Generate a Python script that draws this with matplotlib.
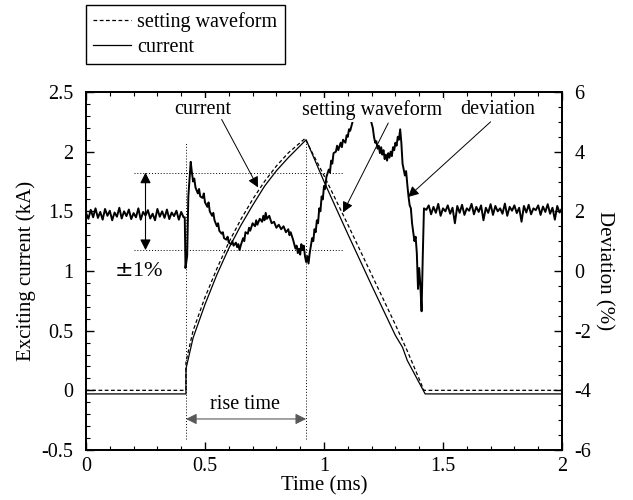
"""Exciting current vs setting waveform, with the deviation trace on a twin axis."""

import matplotlib as mpl

mpl.use("Agg")
import matplotlib.pyplot as plt
from matplotlib.ticker import MultipleLocator

plt.rcParams["font.family"] = ["Liberation Serif", "DejaVu Serif"]
plt.rcParams["font.size"] = 14.5

# setting waveform (kA) vs time (ms)
t_set = [0.0, 0.42, 0.42, 0.45, 0.50, 0.55, 0.60, 0.65, 0.70, 0.75, 0.80,
         0.85, 0.92, 1.00, 1.10, 1.20, 1.30, 1.35, 1.42, 2.0]
i_set = [0.0, 0.0, 0.24, 0.50, 0.78, 1.02, 1.24, 1.43, 1.60, 1.75, 1.88,
         1.99, 2.11, 1.80, 1.39, 0.97, 0.55, 0.33, 0.0, 0.0]

# measured current (kA)
t_cur = [0.0, 0.42, 0.42, 0.45, 0.50, 0.55, 0.60, 0.65, 0.70, 0.75, 0.80,
         0.85, 0.925, 1.00, 1.10, 1.20, 1.30, 1.33, 1.35, 1.425, 2.0]
i_cur = [-0.03, -0.03, 0.18, 0.44, 0.72, 0.97, 1.19, 1.38, 1.55, 1.71, 1.84,
         1.95, 2.10, 1.75, 1.31, 0.88, 0.46, 0.36, 0.25, -0.03, -0.03]

# deviation (%)
t_dev_pre = [i / 100 for i in range(42)]
dev_pre = [1.95, 1.75, 2.05, 1.80, 2.10, 1.78, 1.98, 1.72, 2.08, 1.85, 2.02,
           1.70, 1.96, 1.82, 2.12, 1.76, 2.00, 1.84, 2.06, 1.74, 1.94, 1.80,
           2.10, 1.72, 1.98, 1.86, 2.04, 1.76, 1.92, 1.70, 2.08, 1.82, 2.00,
           1.78, 2.06, 1.74, 1.96, 1.84, 2.02, 1.72, 1.98, 1.80]
t_dev_mid = [0.415, 0.418, 0.425, 0.43, 0.44, 0.445, 0.45, 0.455, 0.46, 0.47,
             0.475, 0.48, 0.49, 0.495, 0.50, 0.51, 0.515, 0.52, 0.53, 0.535,
             0.54, 0.55, 0.555, 0.56, 0.57, 0.575, 0.58, 0.59, 0.595, 0.60,
             0.61, 0.615, 0.62, 0.63, 0.635, 0.64, 0.645, 0.65, 0.66, 0.665,
             0.67, 0.68, 0.685, 0.69, 0.70, 0.71, 0.715, 0.72, 0.73, 0.74,
             0.745, 0.75, 0.755, 0.76, 0.77, 0.78, 0.79, 0.80, 0.81, 0.82,
             0.83, 0.84, 0.85, 0.855, 0.86, 0.87, 0.875, 0.88, 0.885, 0.89,
             0.895, 0.90, 0.905, 0.91, 0.915, 0.92, 0.925, 0.93, 0.935, 0.94,
             0.945, 0.95, 0.955, 0.96, 0.965, 0.97, 0.975, 0.98, 0.985, 0.99,
             0.995, 1.00, 1.005, 1.01, 1.02, 1.025, 1.03, 1.035, 1.04, 1.05,
             1.055, 1.06, 1.07, 1.075, 1.08, 1.09, 1.095, 1.10, 1.105, 1.11,
             1.12, 1.13, 1.15, 1.17, 1.19, 1.20, 1.205, 1.21, 1.215, 1.22,
             1.225, 1.23, 1.235, 1.24, 1.245, 1.25, 1.255, 1.26, 1.265, 1.27,
             1.275, 1.28, 1.285, 1.29, 1.295, 1.30, 1.305, 1.31, 1.315, 1.32,
             1.325, 1.33, 1.335, 1.34, 1.345, 1.35, 1.355, 1.36, 1.365, 1.37,
             1.375, 1.38, 1.385, 1.39, 1.395, 1.40, 1.405, 1.41, 1.415, 1.42]
dev_mid = [1.80, 0.10, 0.50, 2.50, 3.66, 3.30, 3.00, 3.10, 2.80, 2.60,
           2.75, 2.50, 2.45, 2.60, 2.30, 2.15, 2.30, 2.00, 1.85, 1.95,
           1.70, 1.50, 1.60, 1.35, 1.25, 1.30, 1.10, 1.05, 1.15, 0.95,
           0.90, 1.00, 0.85, 0.95, 0.80, 0.90, 0.70, 0.85, 1.10, 1.00,
           1.30, 1.25, 1.45, 1.35, 1.60, 1.50, 1.70, 1.55, 1.75, 1.65,
           1.85, 1.70, 1.95, 1.75, 1.85, 1.60, 1.65, 1.45, 1.55, 1.40,
           1.50, 1.30, 1.40, 1.20, 1.30, 1.05, 0.90, 0.75, 0.85, 0.60,
           0.75, 0.55, 0.90, 0.70, 0.85, 0.50, 0.30, 0.50, 0.25, 0.60,
           0.85, 1.10, 1.00, 1.40, 1.30, 1.70, 1.60, 2.10, 2.00, 2.50,
           2.40, 2.85, 2.75, 3.15, 3.40, 3.30, 3.70, 3.60, 3.95, 4.00,
           4.20, 4.05, 4.30, 4.15, 4.40, 4.30, 4.55, 4.50, 4.75, 4.70,
           5.00, 5.30, 5.50, 5.45, 5.25, 4.95, 4.80, 4.50, 4.30, 4.35,
           4.10, 4.20, 3.95, 4.15, 3.90, 4.05, 3.75, 3.90, 3.70, 3.95,
           3.80, 4.00, 3.85, 4.15, 4.05, 4.30, 4.20, 4.50, 4.40, 4.75,
           4.30, 3.60, 3.40, 3.20, 3.35, 2.90, 2.50, 2.20, 2.10, 1.60,
           1.30, 1.00, 1.15, 0.60, -0.60, 0.10, -0.50, -1.35, 0.50, 2.10]
t_dev_post = [1.43 + i / 100 for i in range(58)]
dev_post = [2.05, 2.20, 1.90, 2.15, 1.95, 2.25, 1.85, 2.10, 2.00, 2.20, 1.92,
            2.12, 1.60, 2.18, 1.95, 2.22, 1.88, 2.10, 2.02, 2.25, 1.90, 2.15,
            1.98, 2.20, 1.70, 2.12, 1.95, 2.24, 1.88, 2.18, 2.00, 2.10, 1.92,
            2.26, 1.85, 2.15, 2.02, 2.20, 1.94, 2.12, 1.65, 2.18, 1.96, 2.22,
            1.90, 2.10, 2.04, 2.20, 1.88, 2.16, 1.98, 2.24, 1.92, 2.12, 1.72,
            2.18, 1.96, 2.10]

t_dev = t_dev_pre + t_dev_mid + t_dev_post
dev = dev_pre + dev_mid + dev_post

fig = plt.figure(figsize=(6.33, 5.0), dpi=100)
ax = fig.add_axes([86 / 633, 50 / 500, 476 / 633, 358 / 500])
ax2 = ax.twinx()

set_line, = ax.plot(t_set, i_set, color="black", lw=0.9, ls=(0, (3, 2)),
                    label="setting waveform")
cur_line, = ax.plot(t_cur, i_cur, color="black", lw=0.9, label="current")
ax2.plot(t_dev, dev, color="black", lw=1.4)

ax.set_xlim(0, 2)
ax.set_ylim(-0.5, 2.5)
ax2.set_ylim(-6, 6)
ax.xaxis.set_major_locator(MultipleLocator(0.5))
ax.xaxis.set_minor_locator(MultipleLocator(0.1))
ax.yaxis.set_major_locator(MultipleLocator(0.5))
ax.yaxis.set_minor_locator(MultipleLocator(0.1))
ax2.yaxis.set_major_locator(MultipleLocator(2))
ax2.yaxis.set_minor_locator(MultipleLocator(0.5))
ax.xaxis.set_major_formatter(plt.FuncFormatter(lambda v, p: f"{v:g}"))
ax.yaxis.set_major_formatter(plt.FuncFormatter(lambda v, p: f"{v:g}"))
ax2.yaxis.set_major_formatter(plt.FuncFormatter(lambda v, p: f"{v:g}"))

ax.tick_params(which="both", direction="in", top=True, right=False, labelsize=14.5)
ax.tick_params(axis="y", pad=9)
ax.tick_params(axis="x", pad=5)
ax.tick_params(which="major", length=6, width=1)
ax.tick_params(which="minor", length=3, width=0.8)
ax2.tick_params(which="both", direction="in", labelsize=14.5, pad=9)
ax2.tick_params(which="major", length=6, width=1)
ax2.tick_params(which="minor", length=3, width=0.8)
for a in (ax, ax2):
    for s in a.spines.values():
        s.set_linewidth(1.3)

ax.set_xlabel("Time (ms)", fontsize=15, labelpad=0)
ax.set_ylabel("Exciting current (kA)", fontsize=15, labelpad=4)
ax2.set_ylabel("Deviation (%)", fontsize=15, rotation=270, labelpad=16)

# guide lines
ax.plot([0.42, 0.42], [-0.41, 2.08], color="black", lw=0.7, ls=(0, (1, 2)))
ax.plot([0.925, 0.925], [-0.41, 2.1], color="black", lw=0.7, ls=(0, (1, 2)))
ax2.plot([0.2, 1.08], [3.3, 3.3], color="black", lw=0.7, ls=(0, (1, 2)))
ax2.plot([0.2, 1.08], [0.7, 0.7], color="black", lw=0.7, ls=(0, (1, 2)))

arrow = dict(arrowstyle="<|-|>", color="black", lw=0.8, mutation_scale=16,
             shrinkA=0, shrinkB=0)
ax2.annotate("", xy=(0.25, 3.3), xytext=(0.25, 0.7), arrowprops=arrow)
ax2.text(0.223, 0.0, r"$\pm$1%", ha="center", va="center", fontsize=16)
ax.annotate("", xy=(0.42, -0.24), xytext=(0.925, -0.24),
            arrowprops=dict(arrow, color="0.35"))
ax.text(0.67, -0.12, "rise time", ha="center", va="center", fontsize=14.5)

lead = dict(arrowstyle="-|>", color="black", lw=0.7, mutation_scale=16,
            shrinkA=0, shrinkB=0)
txt_box = dict(facecolor="white", edgecolor="none", pad=1.5)
labels = [("current", 0.49, (0.57, 2.27), (0.723, 1.70)),
          ("setting waveform", 1.20, (1.27, 2.24), (1.08, 1.49)),
          ("deviation", 1.73, (1.70, 2.25), (1.353, 1.62))]
for text, tx, tail, head in labels:
    ax2.text(tx, 2.35, text, transform=ax.transData, ha="center",
             va="center", fontsize=14.5, bbox=txt_box, zorder=5)
    ax2.annotate("", xy=head, xycoords=ax.transData, xytext=tail,
                 textcoords=ax.transData, arrowprops=lead, zorder=6)

fig.legend(handles=[set_line, cur_line], loc="upper left",
           bbox_to_anchor=(86 / 633, 1 - 5 / 500), fontsize=14.5,
           frameon=True, fancybox=False, edgecolor="black", framealpha=1,
           handlelength=1.9, handletextpad=0.3, borderpad=0.35,
           labelspacing=0.3, borderaxespad=0)

fig.savefig("out.png", dpi=100)
